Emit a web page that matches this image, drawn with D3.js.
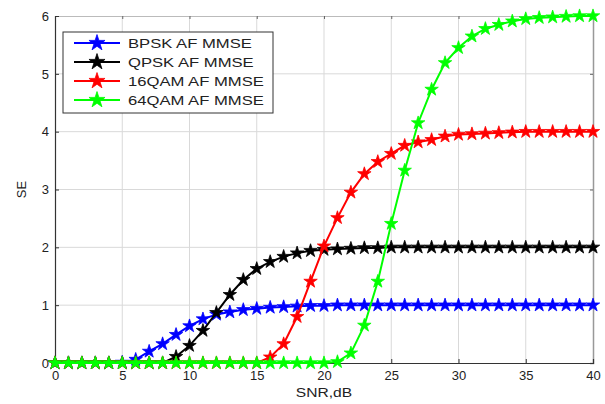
<!DOCTYPE html>
<html><head><meta charset="utf-8">
<script src="https://cdn.jsdelivr.net/npm/d3@7"></script>
<style>body{margin:0;background:#fff}svg{display:block}</style>
</head><body>
<svg id="c" width="605" height="404"></svg>
<script>
const snr = d3.range(0, 41);
const bpsk = [0,0,0,0,0,0.01,0.06,0.2,0.33,0.49,0.64,0.76,0.84,0.88,0.92,0.94,0.96,0.97,0.98,0.99,0.99,1,1,1,1,1,1,1,1,1,1,1,1,1,1,1,1,1,1,1,1];
const qpsk = [0,0,0,0,0,0,0,0,0,0.11,0.3,0.56,0.87,1.18,1.44,1.63,1.75,1.84,1.9,1.94,1.96,1.97,1.98,1.99,1.99,2,2,2,2,2,2,2,2,2,2,2,2,2,2,2,2];
const qam16 = [0,0,0,0,0,0,0,0,0,0,0,0,0,0,0,0,0.1,0.33,0.8,1.41,2.02,2.51,2.95,3.27,3.48,3.62,3.76,3.82,3.86,3.92,3.95,3.96,3.97,3.98,3.99,4,4,4,4,4,4];
const qam64 = [0,0,0,0,0,0,0,0,0,0,0,0,0,0,0,0,0,0,0,0,0,0.02,0.17,0.65,1.41,2.41,3.33,4.15,4.73,5.19,5.45,5.65,5.78,5.85,5.91,5.95,5.97,5.98,5.99,6,6];
const seriesNames = ["BPSK AF MMSE","QPSK AF MMSE","16QAM AF MMSE","64QAM AF MMSE"];
const seriesColors = ["#0000ff","#000000","#ff0000","#00ff00"];
const xTicks = [0,5,10,15,20,25,30,35,40];
const yTicks = [0,1,2,3,4,5,6];

const FONT = "Liberation Sans, Arial, sans-serif";
const svg = d3.select("#c");
const L=55, R=593, T=16, B=363;
const x = d3.scaleLinear().domain([0,40]).range([L,R]);
const y = d3.scaleLinear().domain([0,6]).range([B,T]);

// grid
const g = svg.append("g");
g.selectAll(".gx").data(xTicks.slice(1,-1)).enter().append("line")
 .attr("x1",d=>x(d)).attr("x2",d=>x(d)).attr("y1",T).attr("y2",B)
 .attr("stroke","#d9d9d9").attr("stroke-width",1);
g.selectAll(".gy").data(yTicks.slice(1,-1)).enter().append("line")
 .attr("y1",d=>y(d)).attr("y2",d=>y(d)).attr("x1",L).attr("x2",R)
 .attr("stroke","#d9d9d9").attr("stroke-width",1);
// box top/right with inward ticks
const topAx = svg.append("g").attr("transform",`translate(0,${T})`)
 .call(d3.axisTop(x).tickValues(xTicks).tickSize(-3).tickFormat(""));
topAx.select(".domain").attr("stroke","#bbb");
topAx.selectAll(".tick line").attr("stroke","#666");
const rightAx = svg.append("g").attr("transform",`translate(${R},0)`)
 .call(d3.axisRight(y).tickValues(yTicks).tickSize(-3).tickFormat(""));
rightAx.select(".domain").attr("stroke","#999").attr("stroke-width",1.5);
rightAx.selectAll(".tick line").attr("stroke","#666");

// axes
const xa = svg.append("g").attr("transform",`translate(0,${B})`)
 .call(d3.axisBottom(x).tickValues(xTicks).tickSize(-4).tickPadding(8).tickFormat(d3.format("d")));
const ya = svg.append("g").attr("transform",`translate(${L},0)`)
 .call(d3.axisLeft(y).tickValues(yTicks).tickSize(-4).tickPadding(6).tickFormat(d3.format("d")));
[xa,ya].forEach(a=>{
  a.select(".domain").attr("stroke","#333").attr("stroke-width",1.2);
  a.selectAll(".tick line").attr("stroke","#333");
  a.selectAll("text").attr("font-family",FONT).attr("font-size",13).attr("fill","#222");
});

svg.append("text").attr("transform",`translate(${(L+R)/2},397) scale(1.2,1)`).attr("text-anchor","middle")
 .attr("font-family",FONT).attr("font-size",13).attr("fill","#222").text("SNR,dB");
svg.append("text").attr("transform",`translate(26,${(T+B)/2}) rotate(-90)`).attr("text-anchor","middle")
 .attr("font-family",FONT).attr("font-size",13).attr("fill","#222").text("SE");

const star = d3.symbol().type(d3.symbolStar).size(56);
const line = d3.line().x((d,i)=>x(snr[i])).y(d=>y(d));
const all = [bpsk,qpsk,qam16,qam64];
all.forEach((s,k)=>{
  const gs = svg.append("g");
  gs.append("path").attr("d",line(s)).attr("fill","none").attr("stroke",seriesColors[k]).attr("stroke-width",2);
  gs.selectAll("path.m").data(s).enter().append("path").attr("class","m")
   .attr("d",star).attr("transform",(d,i)=>`translate(${x(snr[i])},${y(d)})`)
   .attr("fill",seriesColors[k]).attr("stroke",seriesColors[k]).attr("stroke-width",0.8);
});

// legend
const lg = svg.append("g");
lg.append("rect").attr("x",63).attr("y",32).attr("width",210).attr("height",81)
 .attr("fill","#fff").attr("stroke","#333").attr("stroke-width",1);
seriesNames.forEach((n,k)=>{
  const yy = 43 + k*19;
  lg.append("line").attr("x1",74).attr("x2",120).attr("y1",yy).attr("y2",yy).attr("stroke",seriesColors[k]).attr("stroke-width",2);
  lg.append("path").attr("d",d3.symbol().type(d3.symbolStar).size(80)).attr("transform",`translate(97,${yy})`)
   .attr("fill",seriesColors[k]).attr("stroke",seriesColors[k]).attr("stroke-width",0.8);
  lg.append("text").attr("transform",`translate(128,${yy+5}) scale(1.28,1)`).attr("font-family",FONT)
   .attr("font-size",13).attr("fill","#222").text(n);
});
</script>
</body></html>
